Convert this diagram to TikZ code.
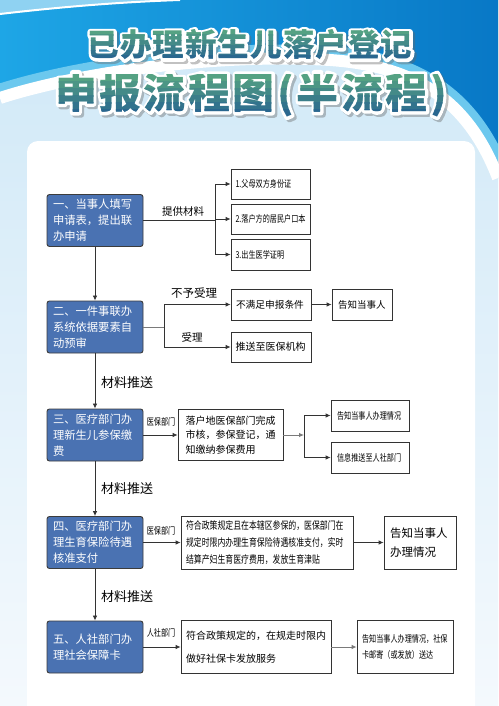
\documentclass[tikz,border=0pt]{standalone}
\usepackage{fontspec}
\newfontfamily\cjk{Noto Sans CJK SC}
\newfontfamily\cjkc[FakeStretch=0.75]{Noto Sans CJK SC}
\usetikzlibrary{arrows.meta,calc}
\definecolor{boxblue}{HTML}{4A72B2}
\definecolor{boxline}{HTML}{3C3C3C}
\definecolor{lineclr}{HTML}{333333}
\definecolor{glineclr}{HTML}{7A7A7A}
\definecolor{tA}{HTML}{55A283}
\definecolor{tB}{HTML}{2A678F}
\definecolor{bgA}{HTML}{CFE8F7}
\definecolor{bgB}{HTML}{F4F9FD}
\definecolor{blueL}{HTML}{1EA6E6}
\definecolor{blueR}{HTML}{0878C6}
\definecolor{cyanband}{HTML}{6CC8EE}
\definecolor{cornerc}{HTML}{8FD2F2}
\newcommand\TitleOne{\makebox[325pt][s]{已\hfill 办\hfill 理\hfill 新\hfill 生\hfill 儿\hfill 落\hfill 户\hfill 登\hfill 记}}
\newcommand\TitleTwo{\makebox[392pt][s]{申\hfill 报\hfill 流\hfill 程\hfill 图\hfill (\hfill 半\hfill 流\hfill 程\hfill )}}
% #1 x, #2 y, #3 content, #4 top, #5 bottom of glyphs
\newcommand\fancytitle[5]{%
  \begin{scope}
    \node[text=black!60, opacity=.4] at ({#1+2.2},{#2+2.2}) {\special{pdf:literal direct 2 Tr 5.6 w 1 j}#3};
  \end{scope}
  \begin{scope}
    \node[text=white] at (#1,#2) {\special{pdf:literal direct 2 Tr 5.6 w 1 j}#3};
  \end{scope}
  \foreach \i in {0,...,5}{%
    \pgfmathsetmacro\m{100-\i*20}
    \begin{scope}
      \clip (0,{#4+\i*(#5-#4)/6-0.3}) rectangle (498,{#4+(\i+1)*(#5-#4)/6+0.3});
      \node[text=tA!\m!tB] at (#1,#2) {#3};
    \end{scope}}}
\tikzset{
  bluebox/.style={draw=boxline, fill=boxblue, rounded corners=2.5pt, line width=0.9pt,
    minimum width=96pt, minimum height=52pt, text width=84pt, inner sep=0pt, align=left,
    text=white, font=\cjk\fontsize{11.3}{16}\selectfont},
  wbox/.style={draw=lineclr, fill=white, line width=0.8pt, inner sep=0pt, align=left},
  smallc/.style={font=\cjkc\fontsize{9.5}{16}\selectfont},
  lbl/.style={inner sep=0pt, font=\cjk\fontsize{10.5}{12}\selectfont},
  tinylbl/.style={inner sep=0pt, font=\cjkc\fontsize{9.5}{12}\selectfont},
  biglbl/.style={inner sep=0pt, font=\cjk\fontsize{13}{14}\selectfont},
  ln/.style={draw=lineclr, line width=0.8pt},
  gln/.style={draw=glineclr, line width=0.9pt},
  arr/.style={ln, -{Latex[length=5pt,width=4.5pt]}},
  garr/.style={gln, -{Latex[length=5pt,width=4.5pt]}, color=glineclr}
}
\begin{document}
\begin{tikzpicture}[x=1pt,y=-1pt]
\useasboundingbox (0,0) rectangle (498,706);
% background
\fill[top color=bgA,bottom color=bgB] (0,0) rectangle (498,706);
\fill[left color=blueL,right color=blueR] (0,0) -- (498,0) -- (498,178) .. controls (470,105) and (420,66) .. (330,60) .. controls (220,53) and (80,72) .. (0,98) -- cycle;
\begin{scope}
  \clip (0,0) -- (498,0) -- (498,178) .. controls (470,105) and (420,66) .. (330,60) .. controls (220,53) and (80,72) .. (0,98) -- cycle;
  \draw[cyanband, line width=28pt] (0,98) .. controls (80,72) and (220,53) .. (330,60) .. controls (420,66) and (470,105) .. (498,178);
\end{scope}
\draw[white, line width=12pt] (0,98) .. controls (80,72) and (220,53) .. (330,60) .. controls (420,66) and (470,105) .. (498,178);
\fill[cornerc] (0,0) -- (0,14) .. controls (60,7) and (120,2) .. (180,0) -- cycle;
\draw[white, line width=2pt] (0,14) .. controls (60,7) and (120,2) .. (180,0);
% panel
\fill[white, rounded corners=11pt] (27,141) rectangle (475,730);
% title
\fancytitle{250}{45}{{\cjk\bfseries\fontsize{31.5}{32}\selectfont\TitleOne}}{30}{61}
\fancytitle{251}{95}{{\cjk\bfseries\fontsize{42}{44}\selectfont\TitleTwo}}{75}{117}
% main boxes
\node[bluebox] (b1) at (95,220.5) {一、当事人填写\\申请表，提出联\\办申请};
\node[bluebox] (b2) at (95,327) {二、一件事联办\\系统依据要素自\\动预审};
\node[bluebox] (b3) at (95,435) {三、医疗部门办\\理新生儿参保缴\\费};
\node[bluebox] (b4) at (95,542.5) {四、医疗部门办\\理生育保险待遇\\核准支付};
\node[bluebox] (b5) at (95,647) {五、人社部门办\\理社会保障卡};
\draw[arr] (b1.south) -- (b2.north);
\draw[arr] (b2.south) -- (b3.north);
\draw[arr] (b3.south) -- (b4.north);
\draw[arr] (b4.south) -- (b5.north);
\node[biglbl] (t1) at (127,383) {材料推送};
\node[biglbl] (t2) at (127,489) {材料推送};
\node[biglbl] (t3) at (127,597) {材料推送};
% row 1
\node[wbox, smallc, minimum width=79pt, minimum height=30pt, text width=70pt] (s1) at (270.5,184) {1.父母双方身份证};
\node[wbox, smallc, minimum width=79pt, minimum height=30pt, text width=70pt] (s2) at (270.5,219) {2.落户方的居民户口本};
\node[wbox, smallc, minimum width=79pt, minimum height=31pt, text width=70pt] (s3) at (270.5,254.5) {3.出生医学证明};
\coordinate (j1) at (215,220.5);
\draw[ln] (b1.east) -- (j1);
\draw[arr] (j1) |- (s1.west);
\draw[arr] (j1) |- (s2.west);
\draw[arr] (j1) |- (s3.west);
\node[lbl] (l1) at (183,212) {提供材料};
% row 2
\node[wbox, minimum width=80pt, minimum height=31pt, text width=70pt, font=\cjk\fontsize{9.7}{12}\selectfont] (n1) at (271,304.5) {不满足申报条件};
\node[wbox, minimum width=60pt, minimum height=31pt, text width=48pt, font=\cjk\fontsize{9.5}{12}\selectfont] (n2) at (362,304.5) {告知当事人};
\node[wbox, minimum width=80pt, minimum height=30pt, text width=71pt, font=\cjk\fontsize{10}{12}\selectfont] (n3) at (271,347) {推送至医保机构};
\coordinate (j2) at (164,327);
\draw[gln] (b2.east) -- (j2);
\draw[arr] (j2) |- (n1.west);
\draw[arr] (j2) |- (n3.west);
\draw[arr] (n1.east) -- (n2.west);
\node[lbl, font=\cjk\fontsize{11.5}{12}\selectfont] (l2) at (194,293) {不予受理};
\node[lbl] (l3) at (192,337) {受理};
% row 3
\node[wbox, minimum width=105pt, minimum height=51pt, text width=90pt, font=\cjk\fontsize{10}{14.5}\selectfont] (m3) at (230.5,435) {落户地医保部门完成\\市核，参保登记，通\\知缴纳参保费用};
\node[wbox, smallc, minimum width=78pt, minimum height=31pt, text width=66pt] (a3) at (370,415.5) {告知当事人办理情况};
\node[wbox, smallc, minimum width=78pt, minimum height=31pt, text width=66pt] (c3) at (370,457.5) {信息推送至人社部门};
\draw[arr] (b3.east) -- (m3.west);
\coordinate (j3) at (304,435);
\draw[garr] (m3.east) -- (j3);
\draw[arr] (j3) |- (a3.west);
\draw[arr] (j3) |- (c3.west);
\node[tinylbl] (l4) at (161,422) {医保部门};
% row 4
\node[wbox, minimum width=172pt, minimum height=53pt, text width=162pt, font=\cjkc\fontsize{10.5}{17}\selectfont] (m4) at (267,542.5) {符合政策规定且在本辖区参保的，医保部门在\\规定时限内办理生育保险待遇核准支付，实时\\结算产妇生育医疗费用，发放生育津贴};
\node[wbox, minimum width=72pt, minimum height=53pt, text width=60pt, font=\cjk\fontsize{11.5}{19}\selectfont] (r4) at (420,542.5) {告知当事人\\办理情况};
\draw[arr] (b4.east) -- (m4.west);
\draw[arr] (m4.east) -- (r4.west);
\node[tinylbl] (l5) at (161,531) {医保部门};
% row 5
\node[wbox, minimum width=150pt, minimum height=53pt, text width=140pt, font=\cjk\fontsize{10}{23}\selectfont] (m5) at (256,647) {符合政策规定的，在规走时限内\\做好社保卡发放服务};
\node[wbox, smallc, minimum width=96pt, minimum height=53pt, text width=86pt] (r5) at (405,647) {告知当事人办理情况，社保\\卡邮寄（或发放）送达};
\draw[arr] (b5.east) -- (m5.west);
\draw[garr] (m5.east) -- (r5.west);
\node[tinylbl] (l6) at (161,633) {人社部门};
\end{tikzpicture}
\end{document}
